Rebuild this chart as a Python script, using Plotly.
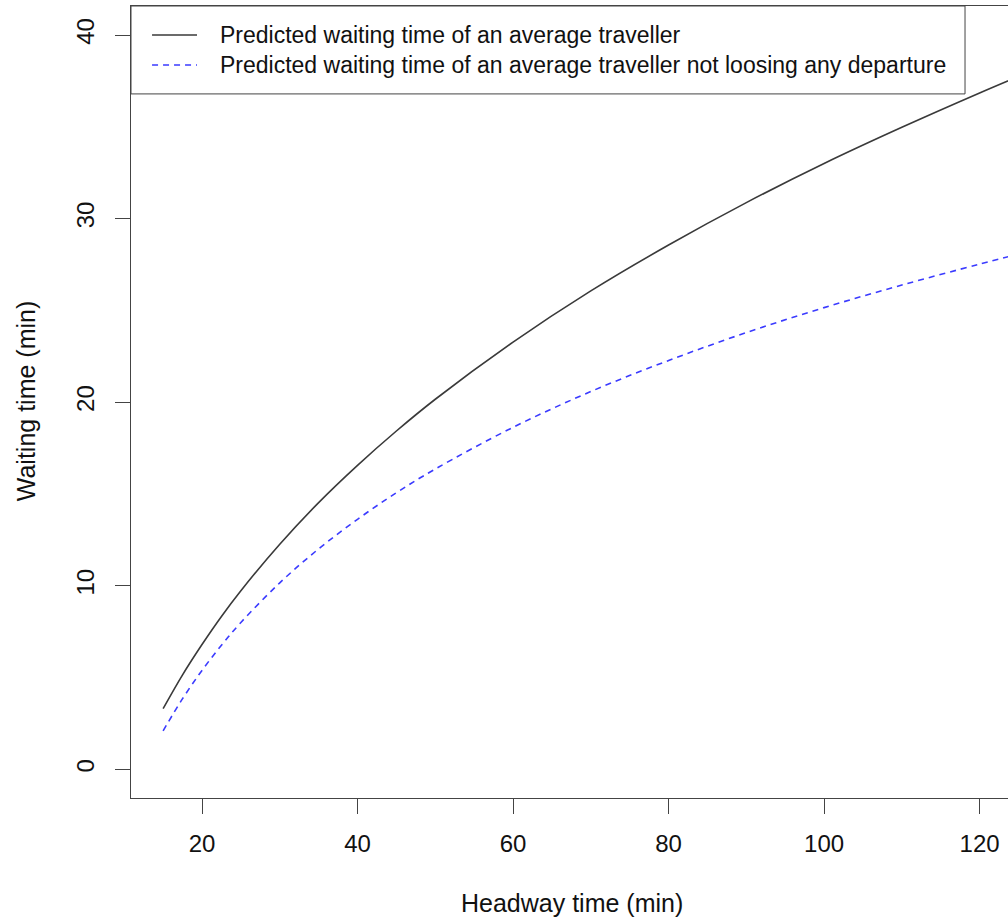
import plotly.graph_objects as go

# Data
headway = [15, 17.5, 20, 22.5, 25, 30, 35, 40, 45, 50, 60, 70, 80, 90, 100, 110, 120, 125]
wait_avg = [3.31, 5.15, 6.80, 8.33, 9.73, 12.26, 14.53, 16.56, 18.43, 20.16, 23.27,
            26.06, 28.56, 30.87, 33.00, 34.97, 36.84, 37.74]
wait_noloss = [2.10, 3.85, 5.39, 6.76, 8.00, 10.16, 12.01, 13.62, 15.07, 16.36, 18.63,
               20.58, 22.27, 23.79, 25.15, 26.38, 27.52, 28.07]
names = ["Predicted waiting time of an average traveller",
         "Predicted waiting time of an average traveller not loosing any departure"]
x_ticks = [20, 40, 60, 80, 100, 120]
y_ticks = [0, 10, 20, 30, 40]

FONT = "Liberation Sans, Arial, sans-serif"
BLACK_LINE = "#3a3a3a"
BLUE_LINE = "#3b3bff"
AXIS = "#444444"

fig = go.Figure()
fig.add_trace(go.Scatter(x=headway, y=wait_avg, mode="lines", name=names[0],
                         line=dict(color=BLACK_LINE, width=1.6, shape="spline"),
                         showlegend=False))
fig.add_trace(go.Scatter(x=headway, y=wait_noloss, mode="lines", name=names[1],
                         line=dict(color=BLUE_LINE, width=1.6, dash="6px,5px", shape="spline"),
                         showlegend=False))

# manual legend (R style box)
leg_right = 0.951
leg_bottom = 0.889
fig.add_shape(type="rect", xref="paper", yref="paper", x0=0, x1=leg_right, y0=leg_bottom, y1=1,
              line=dict(color=AXIS, width=1), fillcolor="white", layer="above")
rows_y = [0.9634, 0.9255]
styles = [dict(color=BLACK_LINE, width=1.6), dict(color=BLUE_LINE, width=1.6, dash="6px,5px")]
for yy, st, nm in zip(rows_y, styles, names):
    fig.add_shape(type="line", xref="paper", yref="paper", x0=0.024, x1=0.0753, y0=yy, y1=yy,
                  line=st, layer="above")
    fig.add_annotation(xref="paper", yref="paper", x=0.0992, y=yy, text=nm, showarrow=False,
                       xanchor="left", yanchor="middle", font=dict(family=FONT, size=23, color="#111111"))

# axis titles
fig.add_annotation(xref="paper", yref="paper", x=0.503, y=-0.1326, text="Headway time (min)",
                   showarrow=False, xanchor="center", yanchor="middle",
                   font=dict(family=FONT, size=25, color="#111111"))
fig.add_annotation(xref="paper", yref="paper", x=-0.1197, y=0.501, text="Waiting time (min)",
                   showarrow=False, xanchor="center", yanchor="middle", textangle=-90,
                   font=dict(family=FONT, size=25, color="#111111"))

fig.update_layout(
    width=1008, height=918,
    margin=dict(l=131, r=0, t=6, b=120),
    plot_bgcolor="white", paper_bgcolor="white",
    font=dict(family=FONT, size=24, color="#111111"),
    xaxis=dict(range=[10.87, 123.65], tickvals=x_ticks, ticks="outside", ticklen=15,
               tickcolor=AXIS, tickwidth=1, showline=True, linecolor=AXIS, linewidth=1,
               mirror=True, showgrid=False, zeroline=False, ticklabelstandoff=9,
               tickfont=dict(family=FONT, size=24, color="#111111")),
    yaxis=dict(range=[-1.56, 41.58], tickvals=y_ticks, ticks="outside", ticklen=15,
               tickcolor=AXIS, tickwidth=1, showline=True, linecolor=AXIS, linewidth=1,
               mirror=False, showgrid=False, zeroline=False, tickangle=-90,
               ticklabelstandoff=11,
               tickfont=dict(family=FONT, size=24, color="#111111")),
)

fig.write_html("out.html", config={"displayModeBar": False},
               post_script="document.body.style.margin='0';document.body.style.overflow='hidden';")
